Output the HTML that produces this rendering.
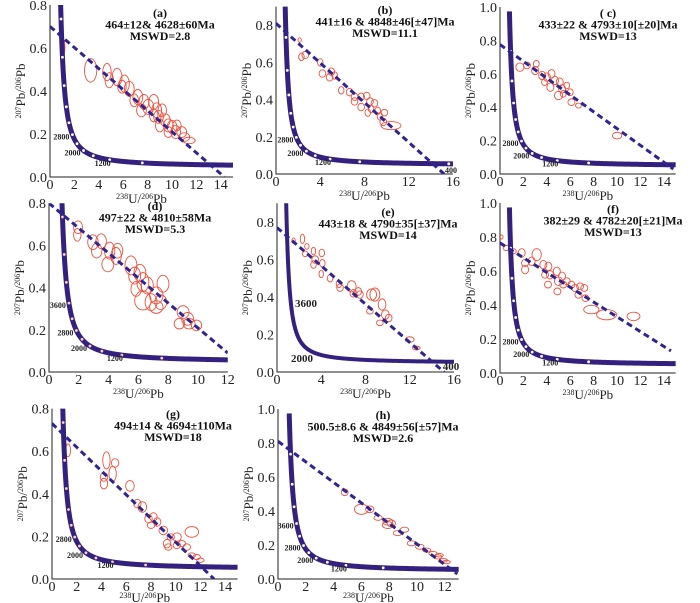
<!DOCTYPE html>
<html><head><meta charset="utf-8">
<style>
html,body{margin:0;padding:0;background:#fff;}
svg{display:block;font-family:"Liberation Serif",serif;}
.tick{font-size:14px;fill:#222;}
.ttl{font-size:12px;font-weight:bold;fill:#111;}
.age{font-size:8px;font-weight:bold;fill:#222;}
.axl{font-size:13px;fill:#222;}
</style></head>
<body>
<svg id="fig" width="700" height="603" viewBox="0 0 700 603" xmlns="http://www.w3.org/2000/svg"></svg>
<script>
// ---- data (per panel) ----
const panelIds = ["a","b","c","d","e","f","g","h"];
const titlesA = ["(a)","464±12& 4628±60Ma","MSWD=2.8"];
const titlesB = ["(b)","441±16 & 4848±46[±47]Ma","MSWD=11.1"];
const titlesC = ["( c)","433±22 & 4793±10[±20]Ma","MSWD=13"];
const titlesD = ["(d)","497±22 & 4810±58Ma","MSWD=5.3"];
const titlesE = ["(e)","443±18 & 4790±35[±37]Ma","MSWD=14"];
const titlesF = ["(f)","382±29 & 4782±20[±21]Ma","MSWD=13"];
const titlesG = ["(g)","494±14 & 4694±110Ma","MSWD=18"];
const titlesH = ["(h)","500.5±8.6 & 4849±56[±57]Ma","MSWD=2.6"];
// discordia: [y-intercept, end x, end y]
const discA = [0.70, 14.3, 0.0];
const discB = [0.81, 15.2, 0.0];
const discC = [0.775, 14.8, 0.03];
const discD = [0.80, 12.0, 0.09];
const discE = [0.77, 15.1, 0.0];
const discF = [0.765, 14.6, 0.13];
const discG = [0.73, 13.1, 0.0];
const discH = [0.81, 12.9, 0.03];
// ellipses: [x, y, sx, sy]
const ellA = [[1.1,0.605,0.12,0.035],[3.33,0.496,0.5,0.055],[4.67,0.488,0.35,0.04],[4.86,0.45,0.35,0.035],[5.5,0.465,0.4,0.04],[6.1,0.434,0.4,0.04],[6.5,0.41,0.4,0.035],[5.9,0.42,0.35,0.03],[6.9,0.357,0.35,0.03],[7.2,0.372,0.4,0.035],[7.7,0.349,0.4,0.035],[8.05,0.326,0.45,0.035],[8.5,0.349,0.4,0.035],[7.5,0.31,0.4,0.03],[8.75,0.31,0.4,0.035],[8.9,0.28,0.4,0.03],[9.2,0.31,0.35,0.03],[9.45,0.264,0.4,0.03],[9.7,0.24,0.4,0.03],[10.0,0.233,0.4,0.03],[10.3,0.209,0.4,0.03],[10.4,0.24,0.35,0.025],[10.8,0.209,0.4,0.025],[11.0,0.186,0.45,0.02],[11.4,0.17,0.5,0.015],[9.0,0.24,0.35,0.03],[9.7,0.209,0.35,0.025],[8.5,0.287,0.35,0.03]];
const ellB = [[2.14,0.72,0.15,0.012],[2.3,0.63,0.25,0.02],[2.65,0.64,0.3,0.02],[4.0,0.60,0.25,0.02],[4.2,0.54,0.3,0.02],[5.0,0.55,0.3,0.02],[4.85,0.52,0.3,0.02],[5.3,0.53,0.25,0.02],[5.9,0.45,0.25,0.02],[6.65,0.44,0.3,0.02],[7.1,0.415,0.3,0.02],[7.7,0.415,0.3,0.02],[8.2,0.42,0.3,0.02],[8.5,0.39,0.3,0.02],[8.6,0.35,0.25,0.02],[8.9,0.38,0.3,0.02],[7.7,0.36,0.3,0.02],[7.1,0.39,0.3,0.02],[9.2,0.34,0.25,0.02],[9.8,0.33,0.3,0.018],[9.7,0.28,0.3,0.02],[10.4,0.26,0.9,0.022],[9.4,0.31,0.25,0.02],[8.3,0.33,0.25,0.02]];
const ellC = [[1.7,0.64,0.35,0.025],[2.3,0.65,0.3,0.02],[3.1,0.66,0.25,0.02],[3.0,0.62,0.3,0.025],[3.6,0.59,0.3,0.025],[4.0,0.58,0.3,0.025],[4.4,0.60,0.3,0.025],[4.7,0.56,0.3,0.025],[4.3,0.52,0.3,0.025],[5.1,0.55,0.3,0.025],[5.3,0.51,0.3,0.025],[5.0,0.47,0.35,0.025],[5.7,0.53,0.25,0.02],[6.0,0.49,0.25,0.02],[6.1,0.43,0.3,0.02],[6.7,0.41,0.25,0.015],[10.0,0.23,0.4,0.02],[3.8,0.55,0.25,0.02],[5.4,0.48,0.25,0.02]];
const ellD = [[1.95,0.686,0.3,0.03],[1.9,0.65,0.25,0.03],[2.95,0.615,0.35,0.035],[3.2,0.575,0.35,0.035],[3.5,0.62,0.35,0.035],[4.07,0.575,0.35,0.04],[3.95,0.51,0.4,0.035],[4.5,0.55,0.35,0.04],[4.6,0.575,0.35,0.035],[5.5,0.505,0.4,0.045],[5.75,0.457,0.4,0.04],[6.1,0.47,0.4,0.04],[6.3,0.426,0.4,0.045],[6.6,0.41,0.4,0.04],[5.85,0.394,0.35,0.035],[7.65,0.418,0.4,0.04],[7.2,0.363,0.45,0.04],[6.3,0.339,0.55,0.045],[6.85,0.331,0.4,0.04],[7.5,0.331,0.4,0.035],[7.2,0.308,0.45,0.03],[9.0,0.284,0.4,0.03],[9.3,0.252,0.4,0.03],[8.75,0.229,0.35,0.025],[9.9,0.221,0.35,0.025],[9.4,0.229,0.4,0.025]];
const ellE = [[1.5,0.70,0.15,0.015],[2.3,0.71,0.2,0.025],[2.7,0.67,0.2,0.015],[2.55,0.63,0.25,0.015],[3.3,0.645,0.2,0.02],[3.45,0.60,0.3,0.02],[3.3,0.573,0.25,0.02],[4.05,0.635,0.25,0.02],[4.1,0.58,0.25,0.02],[4.0,0.523,0.2,0.02],[4.8,0.50,0.25,0.02],[5.7,0.45,0.3,0.02],[6.75,0.457,0.4,0.03],[6.9,0.42,0.3,0.02],[7.35,0.43,0.3,0.02],[7.5,0.413,0.3,0.02],[8.55,0.413,0.45,0.03],[8.85,0.413,0.45,0.035],[8.4,0.324,0.3,0.015],[9.5,0.36,0.35,0.03],[9.8,0.306,0.35,0.025],[9.3,0.262,0.3,0.015],[10.1,0.288,0.3,0.02],[12.0,0.173,0.4,0.015],[12.6,0.128,0.35,0.01],[5.6,0.47,0.25,0.02]];
const ellF = [[0.14,0.80,0.12,0.012],[0.57,0.735,0.3,0.015],[1.14,0.716,0.25,0.015],[1.85,0.706,0.3,0.025],[2.14,0.647,0.3,0.02],[3.13,0.696,0.4,0.035],[2.14,0.608,0.3,0.025],[2.7,0.657,0.3,0.025],[3.7,0.637,0.3,0.025],[4.13,0.627,0.3,0.025],[3.85,0.578,0.3,0.02],[4.27,0.578,0.3,0.025],[4.85,0.598,0.3,0.025],[5.0,0.54,0.35,0.025],[5.3,0.569,0.3,0.025],[5.4,0.52,0.3,0.02],[5.7,0.54,0.3,0.02],[6.1,0.52,0.3,0.02],[6.4,0.50,0.3,0.02],[6.84,0.51,0.3,0.02],[7.2,0.50,0.3,0.02],[6.7,0.46,0.3,0.02],[4.1,0.52,0.3,0.02],[4.9,0.48,0.3,0.02],[7.3,0.44,0.3,0.02],[7.8,0.373,0.65,0.025],[9.1,0.343,0.85,0.03],[11.4,0.333,0.55,0.025]];
const ellG = [[1.3,0.604,0.2,0.03],[4.4,0.557,0.3,0.04],[5.1,0.545,0.3,0.02],[4.9,0.494,0.3,0.035],[4.2,0.479,0.3,0.02],[4.2,0.448,0.3,0.025],[6.3,0.437,0.35,0.025],[6.9,0.354,0.3,0.02],[7.3,0.338,0.35,0.025],[7.8,0.283,0.3,0.02],[8.2,0.291,0.3,0.02],[8.5,0.268,0.3,0.02],[8.0,0.252,0.3,0.015],[9.0,0.228,0.35,0.02],[10.1,0.197,0.35,0.02],[9.6,0.197,0.3,0.015],[9.3,0.166,0.3,0.02],[9.4,0.15,0.3,0.015],[10.5,0.166,0.3,0.015],[10.9,0.15,0.3,0.015],[11.3,0.221,0.55,0.025],[10.1,0.158,0.3,0.015],[11.3,0.111,0.3,0.012],[11.7,0.103,0.3,0.012],[12.0,0.088,0.3,0.01]];
const ellH = [[4.8,0.51,0.25,0.02],[6.0,0.41,0.5,0.03],[6.6,0.41,0.3,0.02],[7.2,0.36,0.3,0.015],[7.9,0.337,0.35,0.02],[7.9,0.317,0.4,0.02],[8.15,0.327,0.3,0.02],[8.6,0.27,0.3,0.015],[9.1,0.29,0.3,0.015],[9.6,0.21,0.3,0.015],[10.2,0.19,0.3,0.015],[10.7,0.17,0.3,0.012],[11.15,0.15,0.3,0.012],[11.5,0.13,0.3,0.012],[11.9,0.11,0.3,0.01],[12.1,0.10,0.3,0.01],[11.6,0.14,0.3,0.01]];
// concordia marker ages to label
const ageLabelsA = [2800,2000,1200];
const ageLabelsB = [2800,2000,1200,400];
const ageLabelsC = [2800,2000,1200];
const ageLabelsD = [3600,2800,2000,1200];
const ageLabelsE = [3600,2000,400];
const ageLabelsF = [2800,2000,1200];
const ageLabelsG = [2800,2000,1200];
const ageLabelsH = [3600,2800,2000,1200];

// ---- layout (not data) ----
const layouts = {
 a:{L:50,B:177,xs:12.2,ys:215,xmax:15,ymax:0.8,xstep:2,xlast:14,ylast:0.8,tx:160,ty:17,titles:titlesA,disc:discA,ell:ellA,ages:ageLabelsA},
 b:{L:276,B:174,xs:11.06,ys:186,xmax:16,ymax:0.9,xstep:4,xlast:16,ylast:0.8,tx:385,ty:14,titles:titlesB,disc:discB,ell:ellB,ages:ageLabelsB},
 c:{L:500,B:174,xs:11.71,ys:167,xmax:15,ymax:1.0,xstep:2,xlast:14,ylast:1.0,tx:608,ty:17,titles:titlesC,disc:discC,ell:ellC,ages:ageLabelsC},
 d:{L:49,B:372,xs:14.9,ys:211,xmax:12,ymax:0.8,xstep:2,xlast:12,ylast:0.8,tx:155,ty:210,titles:titlesD,disc:discD,ell:ellD,ages:ageLabelsD},
 e:{L:277,B:372,xs:11.06,ys:187.5,xmax:16,ymax:0.9,xstep:4,xlast:16,ylast:0.8,tx:388,ty:216,titles:titlesE,disc:discE,ell:ellE,ages:ageLabelsE,big:true},
 f:{L:500,B:373,xs:11.71,ys:170,xmax:15,ymax:1.0,xstep:2,xlast:14,ylast:1.0,tx:613,ty:213,titles:titlesF,disc:discF,ell:ellF,ages:ageLabelsF},
 g:{L:52,B:579,xs:12.37,ys:213,xmax:15,ymax:0.8,xstep:2,xlast:14,ylast:0.8,tx:173,ty:418,titles:titlesG,disc:discG,ell:ellG,ages:ageLabelsG},
 h:{L:278,B:579,xs:13.9,ys:170,xmax:13,ymax:1.0,xstep:2,xlast:12,ylast:1.0,tx:383,ty:419,titles:titlesH,disc:discH,ell:ellH,ages:ageLabelsH}
};

const NS="http://www.w3.org/2000/svg";
const svg=document.getElementById('fig');
function mk(tag,attrs,parent){const e=document.createElementNS(NS,tag);for(const k in attrs)e.setAttribute(k,attrs[k]);(parent||svg).appendChild(e);return e;}
const l238=1.55125e-10,l235=9.8485e-10;
function conc(tMa){const t=tMa*1e6;const a=Math.exp(l238*t)-1;const b=Math.exp(l235*t)-1;return [1/a,b/(a*137.88)];}

panelIds.forEach(id=>{
 const P=layouts[id];
 const X=v=>P.L+v*P.xs, Y=v=>P.B-v*P.ys;
 const g=mk('g',{});
 
 
 const cp=mk('clipPath',{id:'cp'+id},g);
 mk('rect',{x:P.L,y:Y(P.ymax),width:P.xmax*P.xs,height:P.ymax*P.ys},cp);
 const ax=mk('path',{d:`M${P.L},${Y(P.ymax)}V${P.B}H${X(P.xmax)}`,stroke:'#222','stroke-width':1,fill:'none'},g);
 
 
 for(let v=0;v<=P.xlast+1e-9;v+=P.xstep){
  const t=mk('text',{x:X(v),y:P.B+12,'text-anchor':'middle',class:'tick'},g);t.textContent=String(v);
  
  
 }
 for(let v=0;v<=P.ylast+1e-9;v+=0.2){
  const t=mk('text',{x:P.L-3,y:Y(v)+5,'text-anchor':'end',class:'tick'},g);t.textContent=v.toFixed(1);
  
  
 }
 const xl=mk('text',{x:X(P.xmax*0.5),y:Math.min(P.B+26,602),'text-anchor':'middle',class:'axl'},g);
 xl.innerHTML='<tspan font-size="8" dy="-4">238</tspan><tspan dy="4">U/</tspan><tspan font-size="8" dy="-4">206</tspan><tspan dy="4">Pb</tspan>';
 
 
 const yc=Y(P.ymax*0.5);
 const yl=mk('text',{x:0,y:0,'text-anchor':'middle',class:'axl',transform:`translate(${P.L-25},${yc}) rotate(-90)`},g);
 yl.innerHTML='<tspan font-size="8" dy="-4">207</tspan><tspan dy="4">Pb/</tspan><tspan font-size="8" dy="-4">206</tspan><tspan dy="4">Pb</tspan>';
 
 
 const pg=mk('g',{'clip-path':`url(#cp${id})`},g);
 P.ell.forEach(e=>{
  const el=mk('ellipse',{cx:X(e[0]),cy:Y(e[1]),rx:e[2]*P.xs,ry:e[3]*P.ys,fill:'none',stroke:'#f0503c','stroke-width':0.9},pg);
  
  
 });
 let d='';
 for(let t=5200;t>=60;t-=10){const c=conc(t);d+=(d?'L':'M')+X(c[0]).toFixed(2)+','+Y(c[1]).toFixed(2);}
 const cc=mk('path',{d,fill:'none',stroke:'#34207e','stroke-width':P.big?4:5,'stroke-linejoin':'round'},pg);
 
 
 if(!P.big){for(let t=4800;t>=400;t-=400){const c=conc(t);
  const m=mk('circle',{cx:X(c[0]),cy:Y(c[1]),r:1.4,fill:(id==='d'||id==='g')?'#ffd0c0':'#fff'},pg);
  
  }}
 const ln=mk('line',{x1:X(0),y1:Y(P.disc[0]),x2:X(P.disc[1]),y2:Y(P.disc[2]),stroke:'#2e2590','stroke-width':3,'stroke-dasharray':'6,4'},pg);
 
 
 P.ages.forEach(a=>{const c=conc(a);let x=X(c[0]),y=Y(c[1]),anc='end';
  if(P.big){ if(a===3600){x=P.L+29;y=P.B-65;anc='middle';} else if(a===2000){x=P.L+25;y=P.B-10;anc='middle';} else {x=X(P.xmax)-3;y=P.B-2;anc='middle';} }
  else if(a===1200){x-=7;y+=6;anc='middle';}
  else if(a===400){x=X(P.xmax)-2;y=P.B-1;anc='middle';}
  else {x-=3;y+=5;}
  const t=mk('text',{x,y,'text-anchor':anc,class:'age'},g);t.textContent=String(a);
  if(P.big)t.setAttribute('style','font-size:11px');
  
  });
 P.titles.forEach((s,i)=>{const t=mk('text',{x:P.tx,y:P.ty+i*11.5,'text-anchor':'middle',class:'ttl'},g);t.textContent=s;
  
  });
});
</script>
</body></html>
